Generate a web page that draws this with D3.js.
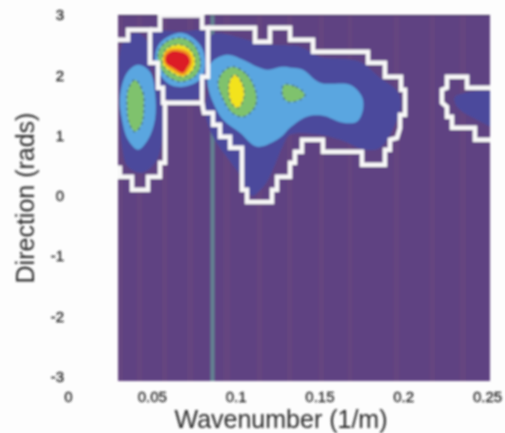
<!DOCTYPE html>
<meta charset="utf-8">
<script src="https://d3js.org/d3.v7.min.js"></script>
<style>
  html, body { margin: 0; background: #fdfdfd; }
  text { font-family: "Liberation Sans", Arial, sans-serif; fill: #2b2b2b; }
</style>
<div id="my_dataviz"></div>
<script>
// tick labels
var xTicks = [0, 0.05, 0.1, 0.15, 0.2, 0.25];
var yTicks = [3, 2, 1, 0, -1, -2, -3];

// extent of the measured spectrum (wavenumber, direction)
var kRange = [0.0298, 0.2518];
var dirRange = [-3.07, 3.0];

// wavenumbers where the faint vertical striping changes
var stripeK = [0.0298, 0.033, 0.041, 0.0445, 0.056, 0.0595, 0.071, 0.075, 0.0925, 0.097, 0.1125, 0.116, 0.1305, 0.134, 0.1495, 0.153, 0.1665, 0.17, 0.194, 0.198, 0.2155, 0.219, 0.2335, 0.2375, 0.2518];
// odd instrument line
var badK = 0.0862;

// white mask outlines, [wavenumber, direction]
var maskLeft = [[.0298,2.591],[.0358,2.591],[.0358,2.757],[.0489,2.757],[.0489,2.209],[.0537,2.209],[.0537,1.794],[.0567,1.794],[.0567,1.545],[.0579,1.545],[.0579,.548],[.0549,.548],[.0549,.316],[.0477,.316],[.0477,.1],[.0382,.1],[.0382,.316],[.031,.316],[.031,.465],[.0298,.465]];
var maskCentre = [[.0489,2.757],[.0549,2.757],[.0549,2.99],[.08,2.99],[.08,2.79],[.0835,2.79],[.0835,1.977],[.08,1.977],[.08,1.545],[.0567,1.545]];
var maskRight = [[.0835,2.79],[.1116,2.79],[.1116,2.558],[.1205,2.558],[.1205,2.79],[.1325,2.79],[.1325,2.591],[.1462,2.591],[.1462,2.392],[.179,2.392],[.179,2.209],[.1891,2.209],[.1891,1.977],[.1987,1.977],[.1987,1.761],[.2011,1.761],[.2011,1.345],[.1981,1.345],[.1981,1.129],[.1963,.963],[.1921,.93],[.1921,.764],[.1891,.764],[.1891,.515],[.1754,.515],[.1754,.731],[.1521,.731],[.1521,.93],[.1396,.93],[.1396,.731],[.1354,.731],[.1354,.548],[.1325,.548],[.1325,.316],[.1247,.316],[.1247,.1],[.1217,.1],[.1217,-.1],[.1068,-.1],[.1068,.1],[.1038,.1],[.1038,.797],[.0967,.797],[.0967,.98],[.0907,.98],[.0907,1.179],[.0865,1.179],[.0865,1.379],[.0811,1.379],[.08,1.545]];
var maskFar = [[.2518,1.794],[.2381,1.794],[.2381,1.977],[.2261,1.977],[.2261,1.794],[.2231,1.761],[.2231,1.545],[.2261,1.478],[.2261,1.312],[.2291,1.312],[.2291,1.129],[.2428,1.129],[.2428,.93],[.2518,.93]];

// contour levels, [wavenumber, direction]
var lowLeft = [[.0412,2.707],[.0477,2.541],[.0489,2.143],[.0537,1.761],[.0567,1.379],[.0561,.88],[.0519,.548],[.0442,.382],[.0358,.482],[.0322,.814],[.031,1.595],[.031,2.375],[.034,2.591]];
var lowCentre = [[.0668,2.724],[.0829,2.707],[.0829,1.977],[.0788,1.628],[.0567,1.628],[.0537,1.877],[.0507,2.209],[.0507,2.707]];
var lowRight = [[.0859,2.674],[.1116,2.558],[.1217,2.508],[.1384,2.475],[.1504,2.309],[.1742,2.226],[.1862,1.96],[.1969,1.727],[.1987,1.512],[.1951,1.179],[.1862,.797],[.1772,.764],[.1623,.93],[.1504,1.013],[.1325,1.013],[.1277,.797],[.1235,.515],[.1175,.183],[.1098,0],[.1068,.1],[.1026,.349],[.0937,.681],[.0859,1.013],[.0817,1.428],[.0847,1.844],[.0847,2.259]];
var lowFar = [[.26,1.678],[.2309,1.644],[.2321,1.478],[.244,1.262],[.26,1.1]];
var midLeft = [[.0418,2.176],[.0489,2.06],[.0519,1.711],[.0519,1.262],[.0477,.93],[.0418,.764],[.0358,.93],[.0322,1.262],[.031,1.644],[.0352,2.043]];
var midCentre = [[.0668,2.707],[.0746,2.624],[.0805,2.425],[.0817,2.143],[.0788,1.927],[.0686,1.81],[.0609,1.844],[.0549,2.01],[.0519,2.292],[.0549,2.541]];
var midRight = [[.0859,2.226],[.0949,2.342],[.1044,2.259],[.1128,2.143],[.1193,2.093],[.1277,2.143],[.1336,2.126],[.1402,2.093],[.1504,1.877],[.1683,1.844],[.1754,1.644],[.176,1.428],[.1724,1.229],[.1641,1.213],[.1521,1.329],[.1426,1.312],[.1325,1.129],[.1265,.963],[.1128,.814],[.1026,1.046],[.0925,1.262],[.0877,1.478],[.0835,1.81],[.0835,2.06]];
var highLeft = [[.04,1.927],[.0448,1.711],[.0453,1.478],[.0442,1.213],[.04,1.063],[.0364,1.213],[.0352,1.478],[.0358,1.761]];
var highCentre = [[.0668,2.624],[.074,2.541],[.0782,2.342],[.0788,2.126],[.0746,1.96],[.0668,1.894],[.0597,1.977],[.0549,2.143],[.0537,2.375],[.0579,2.541]];
var highRight = [[.0985,2.143],[.1068,2.01],[.1122,1.711],[.1116,1.478],[.1044,1.312],[.0979,1.379],[.0919,1.644],[.0895,1.877],[.0925,2.06]];
var highRight2 = [[.1289,1.844],[.136,1.81],[.1414,1.678],[.1384,1.595],[.1313,1.561],[.1283,1.644],[.1277,1.761]];
var upperCentre = [[.0668,2.508],[.0728,2.425],[.0758,2.259],[.0746,2.093],[.0686,1.977],[.0621,2.043],[.0567,2.176],[.0567,2.342],[.0597,2.458]];
var upperRight = [[.0997,2.01],[.1042,1.844],[.105,1.644],[.1014,1.46],[.0975,1.545],[.0958,1.761],[.0968,1.927]];
var orangeCentre = [[.0668,2.44],[.0722,2.38],[.0742,2.23],[.0722,2.09],[.0688,2.0],[.0618,2.09],[.0575,2.2],[.0575,2.35],[.0607,2.43]];
var peakCentre = [[.0668,2.392],[.071,2.342],[.0728,2.226],[.071,2.126],[.0686,2.043],[.0627,2.126],[.0585,2.209],[.0585,2.325],[.0615,2.392]];

var svg = d3.select("#my_dataviz").append("svg")
    .attr("width", 505)
    .attr("height", 433)
    .style("display", "block");

svg.append("filter").attr("id", "scan")
    .attr("x", 0).attr("y", 0).attr("width", 1).attr("height", 1)
  .append("feGaussianBlur").attr("stdDeviation", 0.8);

var chart = svg.append("g").attr("filter", "url(#scan)");

// same numbers as the tick marks on the picture
var x = d3.scaleLinear().domain([0, 0.25]).range([68, 487]);
var y = d3.scaleLinear().domain(dirRange).range([381, 15]);

svg.append("clipPath").attr("id", "plot")
  .append("rect")
    .attr("x", x(kRange[0]))
    .attr("y", y(dirRange[1]))
    .attr("width", x(kRange[1]) - x(kRange[0]))
    .attr("height", y(dirRange[0]) - y(dirRange[1]));

var plot = chart.append("g").attr("clip-path", "url(#plot)");

plot.append("rect")
    .attr("x", x(kRange[0]))
    .attr("y", y(dirRange[1]))
    .attr("width", x(kRange[1]) - x(kRange[0]))
    .attr("height", y(dirRange[0]) - y(dirRange[1]))
    .attr("fill", "#5f4382");

// faint stripes, every other band is slightly redder
plot.selectAll("rect.stripe")
    .data(d3.pairs(stripeK))
    .enter()
    .append("rect")
      .attr("class", "stripe")
      .attr("x", function(d) { return x(d[0]); })
      .attr("y", y(dirRange[1]))
      .attr("width", function(d) { return x(d[1]) - x(d[0]); })
      .attr("height", y(dirRange[0]) - y(dirRange[1]))
      .attr("fill", function(d, i) { return i % 2 ? "#5f4382" : "#654480"; });

plot.append("line")
    .attr("x1", x(badK)).attr("x2", x(badK))
    .attr("y1", y(dirRange[1])).attr("y2", y(dirRange[0]))
    .attr("stroke", "#628291")
    .attr("stroke-width", 4);

plot.append("line")
    .attr("x1", x(kRange[0])).attr("x2", x(kRange[1]))
    .attr("y1", y(dirRange[1])).attr("y2", y(dirRange[1]))
    .attr("stroke", "#2c2440")
    .attr("stroke-width", 1.5);

var smooth = d3.line()
    .x(function(d) { return x(d[0]); })
    .y(function(d) { return y(d[1]); })
    .curve(d3.curveCatmullRomClosed.alpha(0.5));

var straight = d3.line()
    .x(function(d) { return x(d[0]); })
    .y(function(d) { return y(d[1]); });

function fillLevel(shapes, color) {
  plot.selectAll(null)
      .data(shapes)
      .enter()
      .append("path")
        .attr("d", smooth)
        .attr("fill", color);
}

fillLevel([lowLeft, lowCentre, lowRight, lowFar], "#4c4a9c");
fillLevel([midLeft, midCentre, midRight], "#5aa6e0");
fillLevel([highLeft, highCentre, highRight, highRight2], "#7fc26d");
fillLevel([upperCentre, upperRight], "#f3e31e");
fillLevel([orangeCentre], "#f39a22");
fillLevel([peakCentre], "#dc1f26");

// dashed contour on the green and yellow edges
plot.selectAll(null)
    .data([highLeft, upperRight, upperCentre, highCentre, highRight, highRight2])
    .enter()
    .append("path")
      .attr("d", smooth)
      .attr("fill", "none")
      .attr("stroke", "#33465f")
      .attr("stroke-width", 1.2)
      .attr("stroke-dasharray", "2,4");

plot.selectAll(null)
    .data([maskLeft, maskCentre, maskRight, maskFar])
    .enter()
    .append("path")
      .attr("d", straight)
      .attr("fill", "none")
      .attr("stroke", "#f8f8f8")
      .attr("stroke-width", 4.5);

// axes, the reference has no ticks or axis line
var xAxis = chart.append("g")
    .attr("transform", "translate(0,388)")
    .call(d3.axisBottom(x).tickValues(xTicks).tickSize(0).tickFormat(function(d) { return d; }));
xAxis.select(".domain").remove();

var yAxis = chart.append("g")
    .attr("transform", "translate(66,0)")
    .call(d3.axisLeft(y).tickValues(yTicks).tickSize(0).tickPadding(2).tickFormat(function(d) { return d; }));
yAxis.select(".domain").remove();

chart.selectAll(".tick text")
    .style("font-size", "15px")
    .style("font-family", "'Liberation Sans', Arial, sans-serif")
    .style("fill", "#222")
    .style("stroke", "#222")
    .style("stroke-width", 0.3);

chart.append("text")
    .attr("x", 281)
    .attr("y", 428)
    .attr("text-anchor", "middle")
    .style("font-size", "25px")
    .text("Wavenumber (1/m)");

chart.append("text")
    .attr("transform", "translate(34,198)rotate(-90)")
    .attr("text-anchor", "middle")
    .style("font-size", "25px")
    .text("Direction (rads)");
</script>
